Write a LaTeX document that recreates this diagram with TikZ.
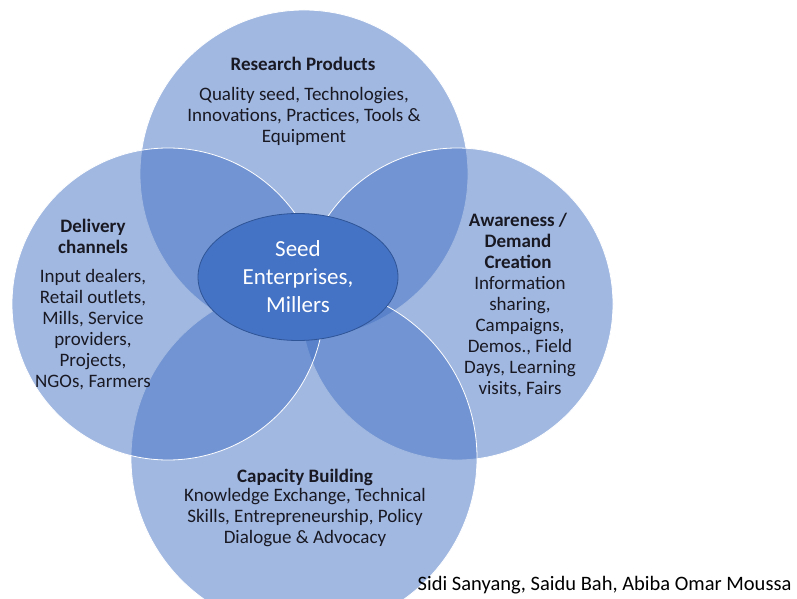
\documentclass[tikz,border=0pt]{standalone}
\usepackage{fontspec}
\setmainfont{Carlito}
\usetikzlibrary{shapes.geometric}

\definecolor{vennblue}{RGB}{68,114,196}
\definecolor{vennedge}{RGB}{47,85,151}
\definecolor{inktext}{RGB}{25,25,35}

\tikzset{
  ring/.style={circle, inner sep=0pt, draw=white, line width=0.8pt,
               fill=vennblue, fill opacity=0.5},
  core/.style={ellipse, inner sep=0pt, minimum width=200pt, minimum height=127pt,
               fill=vennblue, draw=vennedge, line width=0.8pt, text=white,
               align=center, font=\fontsize{23}{28}\selectfont},
  head/.style={align=center, text=inktext, font=\bfseries\fontsize{19}{21}\selectfont},
  body/.style={align=center, text=inktext, font=\fontsize{19}{21}\selectfont},
}

\begin{document}
\begin{tikzpicture}[x=1pt,y=-1pt]
  \clip (0,0) rectangle (797,599);
  \fill[white] (0,0) rectangle (797,599);

  % the four overlapping rings
  \foreach \name/\cx/\cy/\d in {%
      top/304/174/328,
      right/457/304/312,
      bottom/304/458/346,
      left/168/304/312%
      }
      \node[ring, minimum size=\d pt] (\name) at (\cx,\cy) {};

  \node[core] (seed) at (298,277) {Seed\\Enterprises,\\Millers};

  \node[head] (research) at (303,64) {Research Products};
  \node[body] (research-txt) at (304,116)
       {Quality seed, Technologies,\\Innovations, Practices, Tools \&\\Equipment};

  \node[head] (delivery) at (93,236) {Delivery\\channels};
  \node[body] (delivery-txt) at (93,330)
       {Input dealers,\\Retail outlets,\\Mills, Service\\providers,\\Projects,\\NGOs, Farmers};

  \node[head] (awareness) at (518,241) {Awareness /\\Demand\\Creation};
  \node[body] (awareness-txt) at (520,337)
       {Information\\sharing,\\Campaigns,\\Demos., Field\\Days, Learning\\visits, Fairs};

  \node[head] (capacity) at (305,477) {Capacity Building};
  \node[body] (capacity-txt) at (305,518)
       {Knowledge Exchange, Technical\\Skills, Entrepreneurship, Policy\\Dialogue \& Advocacy};

  \node[anchor=east, text=black, font=\fontsize{20.5}{24}\selectfont] (credit) at (795,585)
       {Sidi Sanyang, Saidu Bah, Abiba Omar Moussa};
\end{tikzpicture}
\end{document}
